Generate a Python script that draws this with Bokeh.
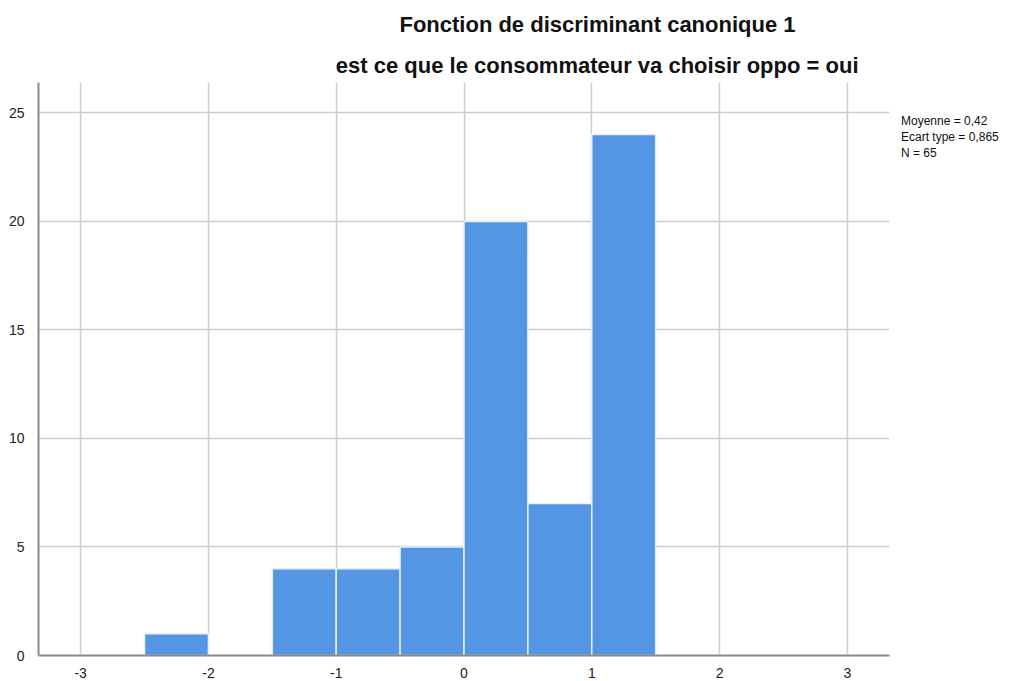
from bokeh.plotting import figure
from bokeh.models import FixedTicker, Range1d, Title, Legend, LegendItem
from bokeh.embed import file_html
from bokeh.resources import INLINE

bin_left = [-2.5, -1.5, -1.0, -0.5, 0.0, 0.5, 1.0]
bin_right = [-2.0, -1.0, -0.5, 0.0, 0.5, 1.0, 1.5]
counts = [1, 4, 4, 5, 20, 7, 24]
x_ticks = [-3, -2, -1, 0, 1, 2, 3]
x_tick_labels = ["-3", "-2", "-1", "0", "1", "2", "3"]
y_ticks = [0, 5, 10, 15, 20, 25]
title1 = "Fonction de discriminant canonique 1"
title2 = "est ce que le consommateur va choisir oppo = oui"
stats = ["Moyenne = 0,42", "Ecart type = 0,865", "N = 65"]

FL, FT, FR = 38, 82, 889  # frame left/top/right in canvas pixels

p = figure(width=1013, height=680, output_backend="svg", toolbar_location=None,
           x_range=Range1d(-3.33, 3.33), y_range=Range1d(0, 26.4),
           frame_width=FR - FL, frame_height=573,
           min_border_left=FL, min_border_right=124, min_border_top=FT, min_border_bottom=24)
p.outline_line_color = None
p.background_fill_color = "white"
p.border_fill_color = "white"

p.quad(left=bin_left, right=bin_right, bottom=0, top=counts,
       fill_color="#5596e4", line_color="#e8f0fb", line_width=1.5)

for ax in (p.xaxis[0], p.yaxis[0]):
    ax.major_tick_line_color = None
    ax.minor_tick_line_color = None
    ax.axis_line_color = "#8a8a8a"
    ax.axis_line_width = 2
    ax.major_label_text_font = "Liberation Sans"
    ax.major_label_text_font_size = "14px"
    ax.major_label_text_color = "#222222"

p.xaxis.ticker = FixedTicker(ticks=x_ticks)
p.xaxis.major_label_overrides = {t: s for t, s in zip(x_ticks, x_tick_labels)}
p.yaxis.ticker = FixedTicker(ticks=y_ticks)
p.xaxis.major_label_standoff = 6
p.yaxis.major_label_standoff = 8

p.xgrid.ticker = FixedTicker(ticks=x_ticks)
p.ygrid.ticker = FixedTicker(ticks=y_ticks[1:])
p.grid.grid_line_color = "#cccccc"
p.grid.grid_line_width = 1.5
p.grid.level = "underlay"

# titles: right-aligned to frame, offset so they end where the reference's do
p.add_layout(Title(text=title2, align="right", offset=FR - 858, text_font="Liberation Sans",
                   text_font_style="bold", text_font_size="22px", text_color="#111111",
                   standoff=10), "above")
p.add_layout(Title(text=title1, align="right", offset=FR - 795, text_font="Liberation Sans",
                   text_font_style="bold", text_font_size="22px", text_color="#111111",
                   standoff=18), "above")

# statistics box at right, as a legend without visible glyphs
dummy = p.scatter(x=[], y=[], size=0, alpha=0)
items = [LegendItem(label=s, renderers=[dummy]) for s in stats]
leg = Legend(items=items, location="top_left", orientation="vertical",
             title=" ", title_text_font_size="14px", title_standoff=4,
             glyph_width=0, glyph_height=14, label_height=14, label_standoff=0,
             spacing=2, padding=0, margin=12, border_line_color=None,
             background_fill_alpha=0, label_text_font="Liberation Sans",
             label_text_font_size="12px", label_text_color="#111111")
p.add_layout(leg, "right")

open("out.html", "w").write(file_html(p, INLINE))
